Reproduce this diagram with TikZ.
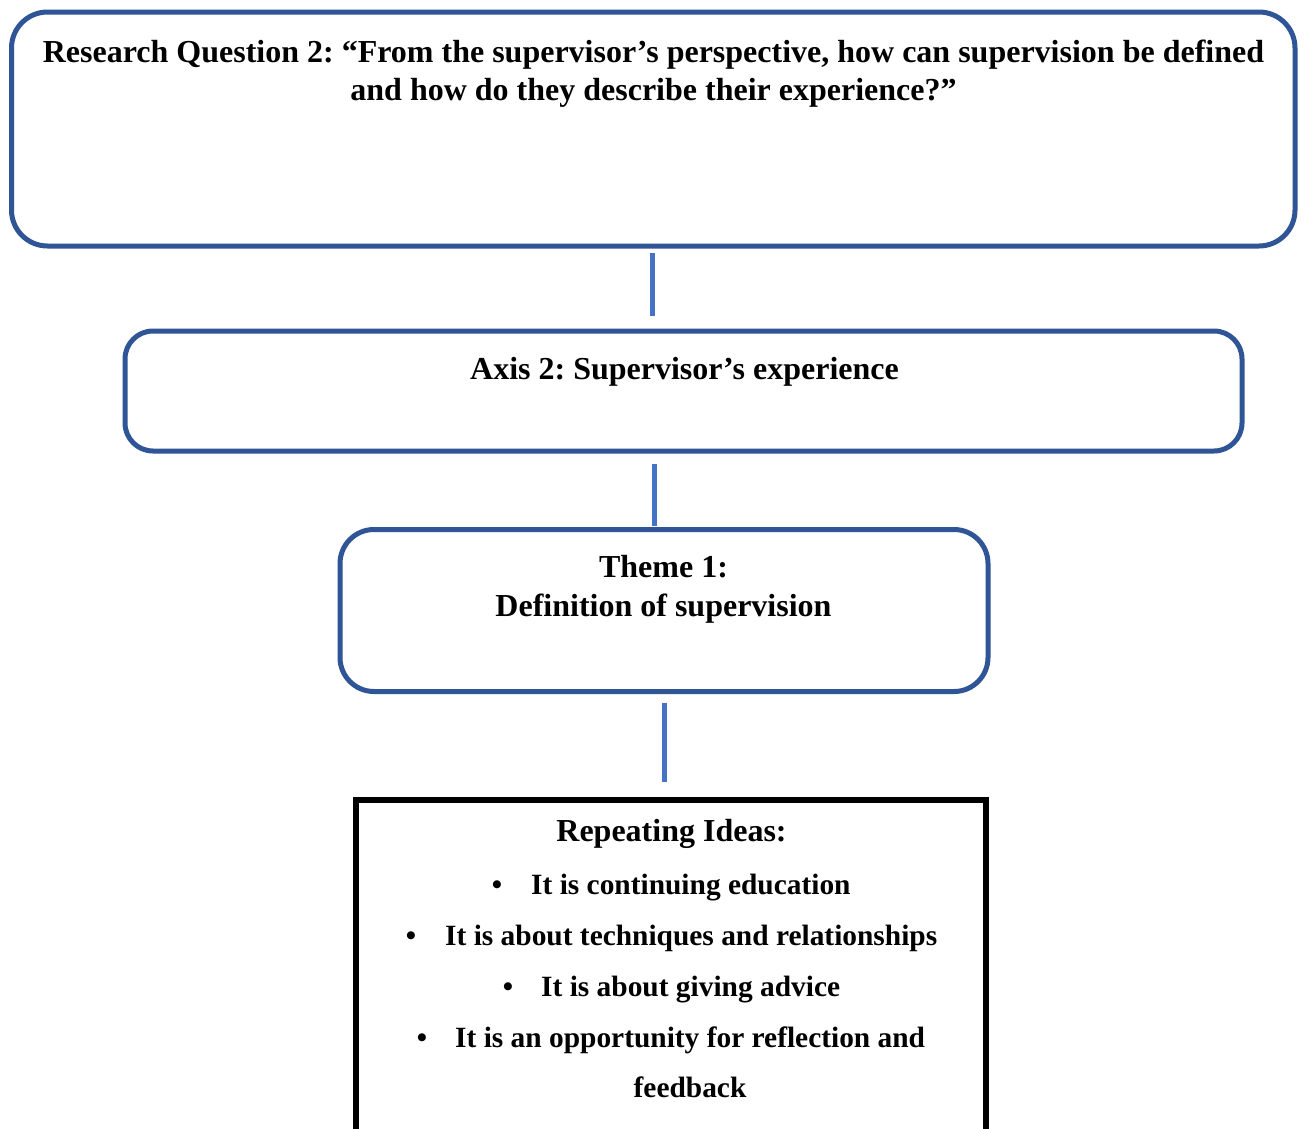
\documentclass[tikz,border=0pt]{standalone}
\usepackage{fontspec}
\setmainfont{Liberation Serif}
\definecolor{boxblue}{RGB}{47,85,151}
\definecolor{linkblue}{RGB}{68,114,196}
\begin{document}
\frenchspacing
\begin{tikzpicture}[x=1pt,y=-1pt,
  link/.style={draw=linkblue,line width=5pt},
  txt/.style={font=\bfseries\fontsize{32}{38}\selectfont,inner sep=0pt,anchor=base},
  idea/.style={font=\bfseries\fontsize{29.4}{38}\selectfont,inner sep=0pt,anchor=base},
  bulletline/.style={font=\bfseries\fontsize{29.4}{38}\selectfont,inner sep=0pt,anchor=base west},
  dot/.style={font=\bfseries\fontsize{29.4}{38}\selectfont,inner sep=0pt,anchor=base}
]
\useasboundingbox (0,0) rectangle (1304,1128);
\clip (0,0) rectangle (1304,1128);
\fill[white] (0,0) rectangle (1304,1128);

% outlined boxes
\draw[draw=boxblue,line width=5pt,rounded corners=36pt] (11.5,12) rectangle (1295,246);
\node[minimum width=1283.5pt,minimum height=234pt,inner sep=0pt] (rq) at (653,129) {};
\draw[draw=boxblue,line width=5pt,rounded corners=28pt] (125,331) rectangle (1242,451);
\node[minimum width=1117pt,minimum height=120pt,inner sep=0pt] (axis) at (683.5,391) {};
\draw[draw=boxblue,line width=5pt,rounded corners=34pt] (340,529.5) rectangle (988,691.5);
\node[minimum width=648pt,minimum height=162pt,inner sep=0pt] (theme) at (664,610.5) {};
\draw[draw=black,line width=6pt] (356,800) rectangle (986,1160);
\node[minimum width=630pt,minimum height=360pt,inner sep=0pt] (ideas) at (671,980) {};

% connector end points
\coordinate (c1a) at (652,253);
\coordinate (c1b) at (652,316);
\coordinate (c2a) at (654.5,464);
\coordinate (c2b) at (654.5,526);
\coordinate (c3a) at (664,703);
\coordinate (c3b) at (664,782);
\draw[link] (c1a) -- (c1b);
\draw[link] (c2a) -- (c2b);
\draw[link] (c3a) -- (c3b);

% texts
\node[txt] (rq1) at (653.5,62) {Research Question 2: “From the supervisor’s perspective, how can supervision be defined};
\node[txt] (rq2) at (653.5,100) {and how do they describe their experience?”};
\node[txt] (ax1) at (684.5,379) {Axis 2: Supervisor’s experience};
\node[txt] (th1) at (663.5,577) {Theme 1:};
\node[txt] (th2) at (663.5,616) {Definition of supervision};
\node[txt] (ri) at (671.5,841) {Repeating Ideas:};
\node[dot] (b1) at (497,894) {•};
\node[bulletline] (i1) at (531,894) {It is continuing education};
\node[dot] (b2) at (411,945) {•};
\node[bulletline] (i2) at (445,945) {It is about techniques and relationships};
\node[dot] (b3) at (508,996) {•};
\node[bulletline] (i3) at (541,996) {It is about giving advice};
\node[dot] (b4) at (422,1047) {•};
\node[bulletline] (i4) at (455,1047) {It is an opportunity for reflection and};
\node[idea] (i5) at (690,1097) {feedback};
\end{tikzpicture}
\end{document}
